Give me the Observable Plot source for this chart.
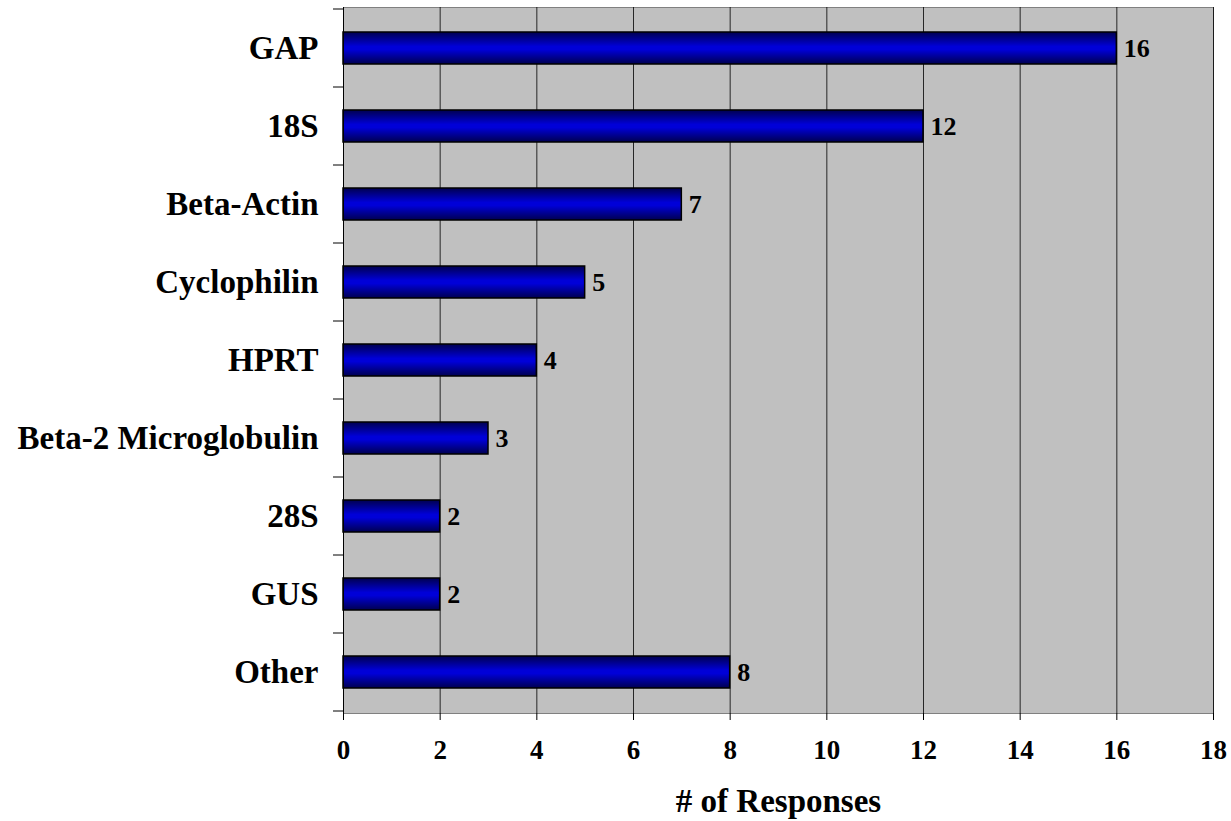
<!DOCTYPE html>
<html>
<head>
<meta charset="utf-8">
<script src="https://cdn.jsdelivr.net/npm/d3@7"></script>
<script src="https://cdn.jsdelivr.net/npm/@observablehq/plot@0.6"></script>
<style>
  html, body { margin: 0; padding: 0; background: #fff; }
  #chart svg { display: block; }
  #chart svg g[aria-label*="x-axis"] text { font-size: 27px !important; font-weight: bold; }
</style>
</head>
<body>
<div id="chart"></div>
<script>
const categories = ["GAP", "18S", "Beta-Actin", "Cyclophilin", "HPRT", "Beta-2 Microglobulin", "28S", "GUS", "Other"];
const responses = [16, 12, 7, 5, 4, 3, 2, 2, 8];
const xTicks = [0, 2, 4, 6, 8, 10, 12, 14, 16, 18];
const xLabel = "# of Responses";

const data = categories.map((c, i) => ({category: c, value: responses[i]}));

const plot = Plot.plot({
  width: 1231,
  height: 821,
  marginLeft: 343,
  marginRight: 18,
  marginTop: 7,
  marginBottom: 108,
  style: {fontFamily: "'Liberation Serif', 'Times New Roman', serif", background: "#fff", color: "#000"},
  x: {domain: [0, 18], ticks: xTicks},
  y: {domain: categories, paddingInner: 0.59, paddingOuter: 0.295},
  marks: [
    Plot.frame({fill: "#c0c0c0", stroke: "#808080"}),
    Plot.gridX(xTicks, {stroke: "#000", strokeOpacity: 0.8}),
    Plot.barX(data, {x: "value", y: "category", fill: "url(#barGrad)", stroke: "#000", strokeWidth: 1.5}),
    Plot.text(data, {x: "value", y: "category", text: d => String(d.value), textAnchor: "start", dx: 7, fontSize: 26, fontWeight: "bold", fill: "#000"}),
    Plot.axisX(xTicks, {tickSize: 7, tickPadding: 19.5, fontSize: 26, fontWeight: "bold", line: true, stroke: "#000", label: null}),
    Plot.text([xLabel], {frameAnchor: "bottom", dy: 98, fontSize: 33, fontWeight: "bold", fill: "#000"}),
    Plot.axisY({tickSize: 0, tickPadding: 25, fontSize: 33, fontWeight: "bold", label: null}),
    Plot.ruleX([0], {stroke: "#000", strokeWidth: 1})
  ]
});

const svg = d3.select(plot);
const defs = svg.insert("defs", ":first-child");
const g = defs.append("linearGradient").attr("id", "barGrad").attr("x1", 0).attr("y1", 0).attr("x2", 0).attr("y2", 1);
[[0, "#000050"], [0.45, "#0000d8"], [0.55, "#0000d8"], [1, "#000050"]].forEach(([o, c]) =>
  g.append("stop").attr("offset", o).attr("stop-color", c));

// y-axis tick marks at category boundaries, derived from the band scale
const ys = plot.scale("y");
const xs = plot.scale("x");
const x0 = xs.apply(0);
const gap = (ys.step - ys.bandwidth) / 2;
const bounds = categories.map(c => ys.apply(c) - gap);
bounds.push(ys.apply(categories[categories.length - 1]) + ys.bandwidth + gap);
svg.append("g").attr("stroke", "#000").selectAll("line").data(bounds).join("line")
  .attr("x1", x0 - 10).attr("x2", x0).attr("y1", d => d).attr("y2", d => d);

document.getElementById("chart").appendChild(plot);
</script>
</body>
</html>
